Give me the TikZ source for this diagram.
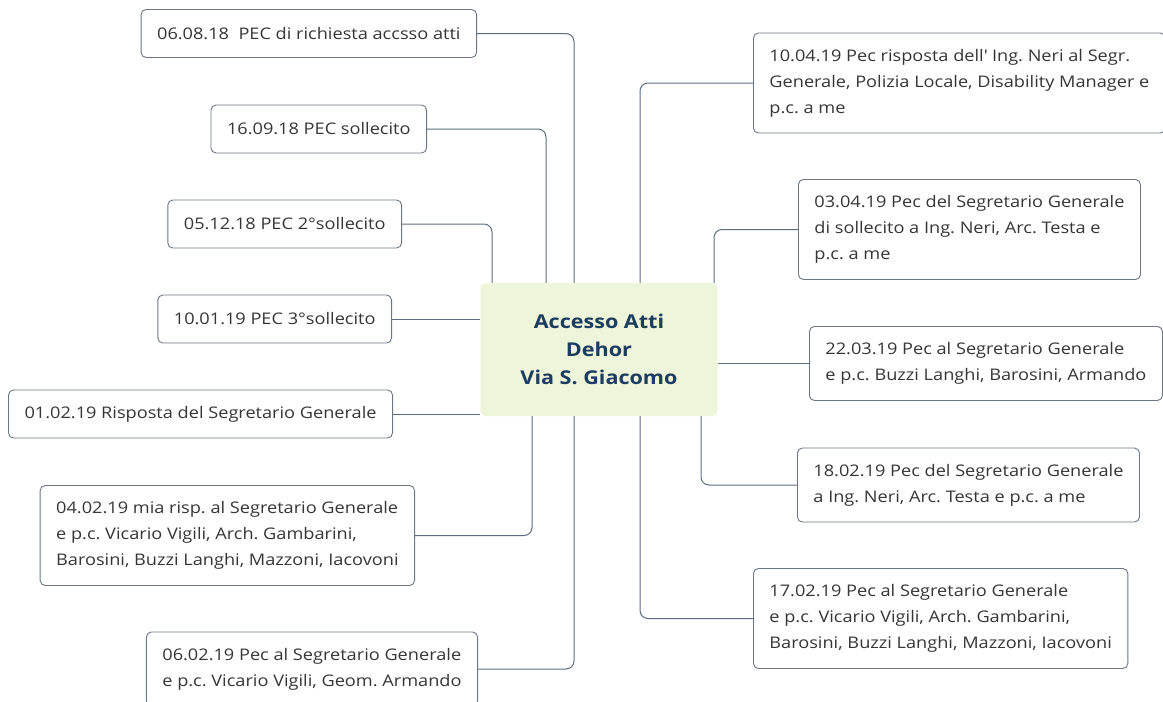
\documentclass[tikz,border=0pt]{standalone}
\usepackage{fontspec}
\setmainfont{Open Sans}[FakeStretch=1.135]
\frenchspacing
\definecolor{boxline}{HTML}{6A7886}
\definecolor{linkline}{HTML}{5B6F80}
\definecolor{hubfill}{HTML}{EDF5DB}
\definecolor{hubtext}{HTML}{1D3D5E}
\definecolor{evttext}{HTML}{363636}
\begin{document}
\begin{tikzpicture}[x=1pt, y=-1pt,
    evt/.style={draw=boxline, line width=0.9pt, rounded corners=5pt, fill=white,
        text=evttext, font=\fontsize{16}{26}\selectfont, align=left,
        inner xsep=16pt, inner ysep=2pt, minimum height=#1},
    evt/.default=48pt,
    hub/.style={fill=hubfill, rounded corners=6pt, text=hubtext, align=center,
        font=\fontsize{19}{28}\selectfont\bfseries,
        minimum width=237pt, minimum height=133pt, inner sep=2pt},
    link/.style={draw=linkline, line width=1pt, rounded corners=8pt}]
    \clip (0,0) rectangle (1163,702);
    \node[hub] (hub) at (599,349.5) {Accesso Atti\\Dehor\\Via S. Giacomo};

    \node[evt, anchor=east] (b1) at (477,33.5) {06.08.18\ \ PEC di richiesta accsso atti};
    \node[evt, anchor=east] (b2) at (427,129) {16.09.18 PEC sollecito};
    \node[evt, anchor=east] (b3) at (402,224) {05.12.18 PEC 2°sollecito};
    \node[evt, anchor=east] (b4) at (392,319) {10.01.19 PEC 3°sollecito};
    \node[evt, anchor=east] (b5) at (393,414) {01.02.19 Risposta del Segretario Generale};
    \node[evt=100pt, anchor=east] (b6) at (415,535.5) {04.02.19 mia risp. al Segretario Generale\\e p.c. Vicario Vigili, Arch. Gambarini,\\Barosini, Buzzi Langhi, Mazzoni, Iacovoni};
    \node[evt=74pt, anchor=east] (b7) at (478,669) {06.02.19 Pec al Segretario Generale\\e p.c. Vicario Vigili, Geom. Armando};

    \node[evt=100pt, anchor=west] (r1) at (753,83) {10.04.19 Pec risposta dell\textquotesingle{} Ing. Neri al Segr.\\Generale, Polizia Locale, Disability Manager e\\p.c. a me};
    \node[evt=100pt, anchor=west] (r2) at (798,229.5) {03.04.19 Pec del Segretario Generale\\di sollecito a Ing. Neri, Arc. Testa e\\p.c. a me};
    \node[evt=74pt, anchor=west] (r3) at (809,363.5) {22.03.19 Pec al Segretario Generale\\e p.c. Buzzi Langhi, Barosini, Armando};
    \node[evt=74pt, anchor=west] (r4) at (797,485) {18.02.19 Pec del Segretario Generale\\a Ing. Neri, Arc. Testa e p.c. a me};
    \node[evt=100pt, anchor=west] (r5) at (753,618.5) {17.02.19 Pec al Segretario Generale\\e p.c. Vicario Vigili, Arch. Gambarini,\\Barosini, Buzzi Langhi, Mazzoni, Iacovoni};

    \draw[link] (b1.east) -| ([xshift=-25pt]hub.north);
    \draw[link] (b2.east) -| ([xshift=-53pt]hub.north);
    \draw[link] (b3.east) -| ([xshift=-107pt]hub.north);
    \draw[link] (b4.east) -- (b4.east -| hub.west);
    \draw[link] (b5.east) -- (b5.east -| hub.west);
    \draw[link] (b6.east) -| ([xshift=-67pt]hub.south);
    \draw[link] (b7.east) -| ([xshift=-25pt]hub.south);

    \draw[link] (r1.west) -| ([xshift=41pt]hub.north);
    \draw[link] (r2.west) -| ([xshift=115pt]hub.north);
    \draw[link] (r3.west) -- (r3.west -| hub.east);
    \draw[link] (r4.west) -| ([xshift=102pt]hub.south);
    \draw[link] (r5.west) -| ([xshift=41pt]hub.south);
\end{tikzpicture}
\end{document}
